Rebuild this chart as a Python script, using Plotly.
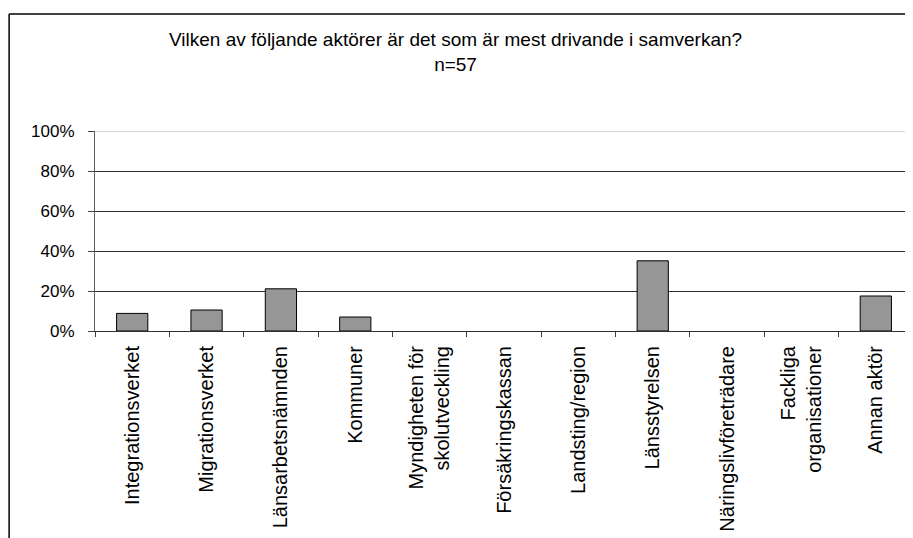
import plotly.graph_objects as go

# survey answers, share of respondents (n=57)
categories = [
    "Integrationsverket",
    "Migrationsverket",
    "Länsarbetsnämnden",
    "Kommuner",
    "Myndigheten för<br>skolutveckling",
    "Försäkringskassan",
    "Landsting/region",
    "Länsstyrelsen",
    "Näringslivföreträdare",
    "Fackliga<br>organisationer",
    "Annan aktör",
]
shares = [0.088, 0.105, 0.211, 0.070, 0.0, 0.0, 0.0, 0.351, 0.0, 0.0, 0.175]
y_ticks = [0, 0.2, 0.4, 0.6, 0.8, 1.0]

title_text = "Vilken av följande aktörer är det som är mest drivande i samverkan?<br>n=57"

font_family = "Liberation Sans, Arial, sans-serif"

# zero answers get no bar at all (no outline stub)
bar_y = [v if v > 0 else None for v in shares]

fig = go.Figure()
fig.add_trace(go.Bar(
    x=categories,
    y=bar_y,
    marker=dict(color="#969696", line=dict(color="#000000", width=1)),
    width=0.42,
))

# page body has an 8px margin, so the figure is a bit smaller than the window
fig.update_layout(
    width=905,
    height=530,
    margin=dict(l=87, r=0, t=123, b=207),
    paper_bgcolor="white",
    plot_bgcolor="white",
    showlegend=False,
    font=dict(family=font_family, color="black"),
    annotations=[dict(
        text=title_text, xref="paper", yref="paper",
        x=0.441, y=1.395, xanchor="center", yanchor="middle",
        showarrow=False, font=dict(size=19, family=font_family, color="black"),
    )],
    shapes=[
        # outer frame (cut at right and bottom)
        dict(type="line", xref="paper", yref="paper",
             x0=-0.105, x1=1.2, y0=1.585, y1=1.585,
             line=dict(color="black", width=1.5)),
        dict(type="line", xref="paper", yref="paper",
             x0=-0.105, x1=-0.105, y0=1.585, y1=-1.2,
             line=dict(color="black", width=1.5)),
        # lighter top gridline
        dict(type="line", xref="paper", yref="y",
             x0=0, x1=1, y0=1, y1=1,
             line=dict(color="#c8c8c8", width=1.5)),
    ],
)

fig.update_xaxes(
    type="category",
    range=[-0.5, 10.5],
    tickangle=-90,
    tickfont=dict(size=20, family=font_family, color="black"),
    ticks="outside",
    tickson="boundaries",
    ticklen=5,
    tickcolor="#404040",
    ticklabelstandoff=6,
    showline=True,
    linecolor="#303030",
    linewidth=1,
    showgrid=False,
    automargin=False,
)
fig.update_yaxes(
    range=[0, 1],
    tickvals=y_ticks,
    tickformat=".0%",
    tickfont=dict(size=17, family=font_family, color="black"),
    ticks="outside",
    ticklen=6,
    tickcolor="#404040",
    ticklabelstandoff=10,
    showline=True,
    linecolor="#606060",
    linewidth=1,
    showgrid=True,
    gridcolor="#303030",
    gridwidth=1,
    zeroline=False,
    automargin=False,
)

fig.write_html("out.html")
